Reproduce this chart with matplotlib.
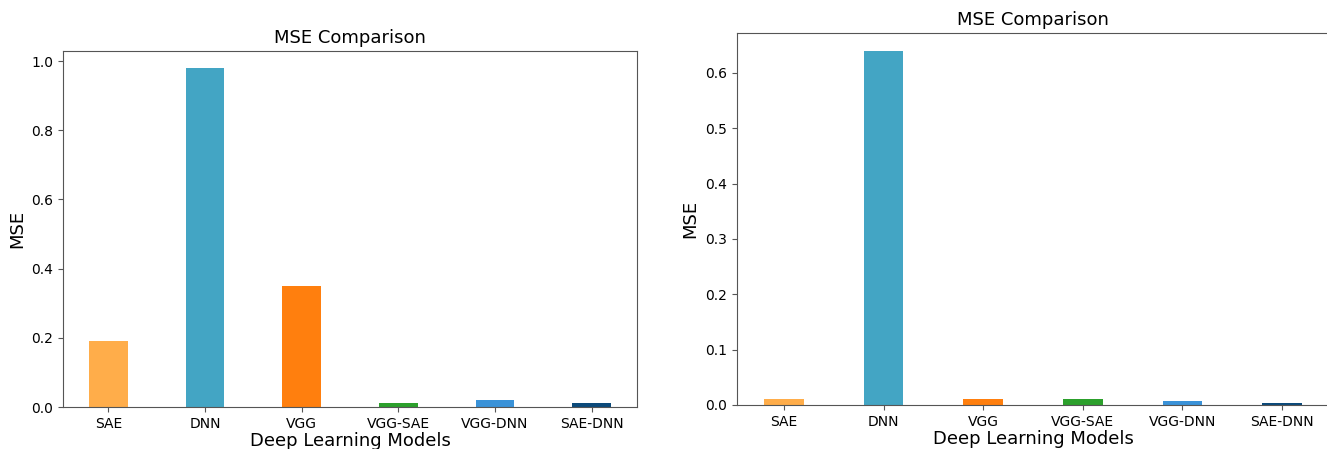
import matplotlib
matplotlib.use("Agg")
import matplotlib.pyplot as plt
import numpy as np

models = ["SAE", "DNN", "VGG", "VGG-SAE", "VGG-DNN", "SAE-DNN"]
mse_left = [0.19, 0.98, 0.35, 0.011, 0.02, 0.011]
mse_right = [0.01, 0.64, 0.01, 0.01, 0.008, 0.004]
colors = ["#ffad4a", "#43a5c4", "#ff7f0e", "#2ca02c", "#3a92d8", "#0c4a7a"]

fig = plt.figure(figsize=(13.27, 4.49), dpi=100)
ax1 = fig.add_axes([0.0475, 0.0935, 0.4326, 0.7929])
ax2 = fig.add_axes([0.5554, 0.098, 0.4461, 0.8285])

x = np.arange(len(models))
for ax, vals in [(ax1, mse_left), (ax2, mse_right)]:
    ax.bar(x, vals, width=0.4, color=colors)
    ax.set_xticks(x)
    ax.set_xticklabels(models)
    ax.set_title("MSE Comparison", fontsize=13)
    ax.set_xlabel("Deep Learning Models", fontsize=13, labelpad=1)
    ax.set_ylabel("MSE", fontsize=13)
    for s in ax.spines.values():
        s.set_color("#555555")
    ax.tick_params(color="#555555")

fig.savefig("out.png", dpi=100)
